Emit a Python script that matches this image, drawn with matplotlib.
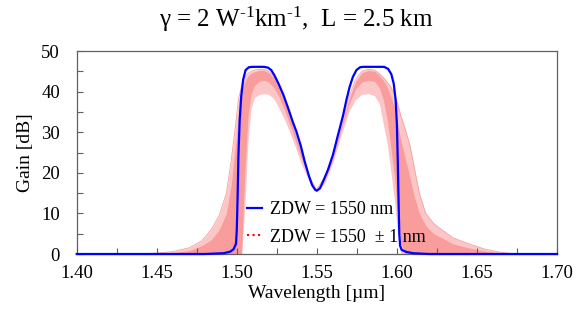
import matplotlib
matplotlib.use("Agg")
import matplotlib.pyplot as plt
from matplotlib.lines import Line2D

plt.rcParams["font.family"] = ["Liberation Serif", "DejaVu Serif"]
plt.rcParams["mathtext.fontset"] = "custom"
plt.rcParams["mathtext.rm"] = "Liberation Serif"
plt.rcParams["mathtext.it"] = "Liberation Serif:italic"

# gain spectrum for the nominal fibre (ZDW = 1550 nm)
blue_wl = [1.400, 1.480, 1.492, 1.496, 1.498, 1.4995, 1.5000, 1.5005, 1.5010,
           1.5018, 1.5028, 1.5040, 1.5055, 1.5075, 1.5100, 1.5170, 1.5195,
           1.5215, 1.5235, 1.5260, 1.5290, 1.5320, 1.5350, 1.5372, 1.5400,
           1.5424, 1.5450, 1.5470, 1.5490, 1.5500, 1.5520, 1.5538, 1.5570,
           1.5601, 1.5630, 1.5663, 1.5685, 1.5705, 1.5725, 1.5747, 1.5770,
           1.5790, 1.5920, 1.5945, 1.5965, 1.5980, 1.5992, 1.6000, 1.6006,
           1.6011, 1.6015, 1.6020, 1.6030, 1.6060, 1.6100, 1.6200, 1.7000]
blue_gain = [0.0, 0.0, 0.2, 0.6, 1.2, 2.5, 6.0, 14.0, 24.0,
             33.0, 39.0, 43.0, 45.3, 46.0, 46.1, 46.1, 45.9,
             45.3, 44.0, 42.0, 39.3, 36.0, 32.5, 30.2, 26.6,
             22.8, 19.3, 17.0, 15.8, 15.6, 16.2, 17.8, 20.8,
             24.5, 29.0, 34.0, 38.0, 41.2, 43.6, 45.3, 46.0,
             46.1, 46.1, 45.6, 44.3, 42.0, 38.0, 32.0, 22.0,
             12.0, 5.0, 2.0, 1.0, 0.5, 0.2, 0.0, 0.0]

# spread of the gain spectra when ZDW varies by +/- 1 nm
red_wl = [1.430, 1.450, 1.460, 1.470, 1.478, 1.484, 1.489, 1.4935, 1.4965,
          1.4990, 1.5010, 1.5030, 1.5050, 1.5070, 1.5090, 1.5110, 1.5140,
          1.5170, 1.5200, 1.5230, 1.5260, 1.5300, 1.5350, 1.5400, 1.5450,
          1.5495, 1.5550, 1.5600, 1.5650, 1.5700, 1.5740, 1.5780, 1.5820,
          1.5860, 1.5890, 1.5915, 1.5940, 1.5960, 1.5985, 1.6005, 1.6025,
          1.6050, 1.6080, 1.6110, 1.6140, 1.6180, 1.6230, 1.6280, 1.6350,
          1.6450, 1.6550, 1.6650, 1.6750]
# max / min over all runs
red_max = [0.0, 0.2, 0.6, 1.5, 3.2, 6.0, 9.5, 15.0, 23.0,
           31.0, 38.0, 41.5, 43.5, 44.5, 45.0, 45.3, 45.5,
           45.5, 45.0, 43.8, 41.5, 37.5, 31.5, 25.5, 19.5,
           15.8, 18.8, 24.3, 31.5, 38.5, 42.8, 45.0, 45.5,
           45.3, 44.5, 43.5, 42.3, 41.3, 39.5, 37.0, 34.0,
           31.0, 27.0, 21.0, 15.0, 10.0, 7.5, 6.0, 4.0,
           2.5, 1.2, 0.4, 0.0]
red_min = [0.0, 0.0, 0.0, 0.0, 0.0, 0.0, 0.0, 0.0, 0.0,
           0.0, 0.0, 0.0, 12.0, 28.0, 36.0, 38.5, 39.3,
           39.5, 39.3, 38.3, 36.2, 33.0, 28.0, 22.5, 18.0,
           15.3, 17.5, 22.5, 29.0, 35.0, 38.0, 39.3, 39.5,
           39.0, 37.0, 32.0, 27.0, 21.0, 13.0, 5.0, 0.0,
           0.0, 0.0, 0.0, 0.0, 0.0, 0.0, 0.0, 0.0,
           0.0, 0.0, 0.0, 0.0]
# band where most of the runs fall
core_max = [0.0, 0.1, 0.3, 0.8, 2.0, 3.5, 6.0, 10.0, 17.0,
            26.0, 34.0, 39.5, 42.5, 43.8, 44.5, 44.9, 45.2,
            45.2, 44.6, 43.3, 41.0, 37.0, 31.0, 25.0, 19.2,
            15.7, 18.6, 24.0, 31.0, 38.0, 42.3, 44.6, 45.2,
            45.0, 44.0, 42.8, 41.0, 39.0, 36.0, 32.0, 28.0,
            24.0, 19.0, 14.0, 10.0, 7.0, 5.0, 4.0, 2.5,
            1.5, 0.7, 0.2, 0.0]
core_min = [0.0, 0.0, 0.0, 0.0, 0.0, 0.0, 0.0, 0.0, 0.0,
            0.0, 0.0, 0.0, 20.0, 34.0, 39.5, 41.5, 42.5,
            42.8, 42.3, 41.0, 39.0, 35.3, 29.8, 24.0, 18.8,
            15.5, 18.2, 23.5, 30.3, 36.8, 40.5, 42.3, 42.8,
            42.5, 41.0, 38.0, 33.0, 27.0, 19.0, 10.0, 3.0,
            0.0, 0.0, 0.0, 0.0, 0.0, 0.0, 0.0, 0.0,
            0.0, 0.0, 0.0, 0.0]

x_major = [1.40, 1.45, 1.50, 1.55, 1.60, 1.65, 1.70]
y_major = [0, 10, 20, 30, 40, 50]

fig = plt.figure(figsize=(5.86, 3.21), dpi=100)
ax = fig.add_axes([0.1309, 0.2087, 0.8196, 0.6324])

ax.fill_between(red_wl, red_min, red_max, color="#fcc6c6", lw=0, zorder=1)
ax.fill_between(red_wl, core_min, core_max, color="#f89c9c", lw=0, zorder=1)
ax.plot(red_wl, red_max, color="#f7a0a0", lw=0.6, zorder=1)
ax.plot(blue_wl, blue_gain, color="#0000ff", lw=1.6, zorder=3, clip_on=False)

ax.set_xlim(1.40, 1.70)
ax.set_ylim(0, 50)
ax.set_xticks(x_major)
ax.set_xticklabels([f"{v:.2f}" for v in x_major])
ax.set_xticks([1.425 + 0.05 * i for i in range(6)], minor=True)
ax.set_yticks(y_major)
ax.set_yticks([5, 15, 25, 35, 45], minor=True)
for s in ax.spines.values():
    s.set_color("#606060")
    s.set_linewidth(0.9)
ax.tick_params(which="both", direction="in", length=4.5, width=0.8,
               color="#606060", labelsize=13.5)
ax.tick_params(axis="x", pad=8)
ax.tick_params(axis="y", pad=12)

fig.text(0.505, 0.941, r"γ = 2 W$^{\text{-1}}$km$^{\text{-1}}$,  L = 2.5 km",
         ha="center", va="center", fontsize=18)
fig.text(0.541, 0.086, "Wavelength [µm]", ha="center", va="center", fontsize=14)
fig.text(0.043, 0.526, "Gain [dB]", ha="center", va="center", rotation=90,
         fontsize=14)

handles = [Line2D([], [], color="#0000ff", lw=1.6),
           Line2D([], [], color="red", lw=1.5, ls=":")]
ax.legend(handles, ["ZDW = 1550 nm", "ZDW = 1550  ± 1 nm"], loc="upper left",
          bbox_to_anchor=(0.4215, 0.374), bbox_transform=fig.transFigure,
          frameon=False, fontsize=13, handlelength=0.85, handletextpad=0.45,
          labelspacing=0.6, borderpad=0, borderaxespad=0)

fig.savefig("out.png", dpi=100)
